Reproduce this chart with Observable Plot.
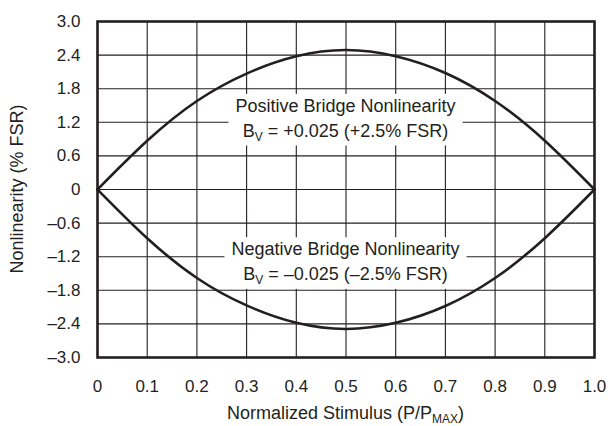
<!DOCTYPE html>
<html>
<head>
<meta charset="utf-8">
<script src="https://cdn.jsdelivr.net/npm/d3@7"></script>
<script src="https://cdn.jsdelivr.net/npm/@observablehq/plot@0.6"></script>
<style>
  html, body { margin: 0; padding: 0; background: #fff; }
  #chart { width: 608px; height: 426px; }
</style>
</head>
<body>
<div id="chart"></div>
<script>
// ---- data ----
const stimulus = [0, 0.1, 0.2, 0.3, 0.4, 0.5, 0.6, 0.7, 0.8, 0.9, 1.0];
const positiveNL = [0, 0.87, 1.58, 2.07, 2.38, 2.49, 2.38, 2.08, 1.58, 0.87, 0];
const negativeNL = [0, -0.87, -1.58, -2.07, -2.38, -2.49, -2.38, -2.08, -1.58, -0.87, 0];

const xTicks = [0, 0.1, 0.2, 0.3, 0.4, 0.5, 0.6, 0.7, 0.8, 0.9, 1.0];
const xTickLabels = ["0", "0.1", "0.2", "0.3", "0.4", "0.5", "0.6", "0.7", "0.8", "0.9", "1.0"];
const yTicks = [3.0, 2.4, 1.8, 1.2, 0.6, 0, -0.6, -1.2, -1.8, -2.4, -3.0];
const yTickLabels = ["3.0", "2.4", "1.8", "1.2", "0.6", "0", "\u20130.6", "\u20131.2", "\u20131.8", "\u20132.4", "\u20133.0"];

const xTitle = ["Normalized Stimulus (P/P", "MAX", ")"];
const yTitle = "Nonlinearity (% FSR)";

// annotations anchored at data positions
const annoX = [0.5, 0.5];
const annoY1 = [1.49, -1.07];
const annoY2 = [1.05, -1.51];
const annoLine1 = ["Positive Bridge Nonlinearity", "Negative Bridge Nonlinearity"];
const annoLine2 = [["B", "V", " = +0.025 (+2.5% FSR)"], ["B", "V", " = \u20130.025 (\u20132.5% FSR)"]];

// ---- build ----
const series = [
  ...stimulus.map((s, i) => ({s, v: positiveNL[i], k: "pos"})),
  ...stimulus.map((s, i) => ({s, v: negativeNL[i], k: "neg"}))
];
const xLab = new Map(xTicks.map((t, i) => [t, xTickLabels[i]]));
const yLab = new Map(yTicks.map((t, i) => [t, yTickLabels[i]]));

const FONT = "'Liberation Sans', Arial, Helvetica, sans-serif";
const ink = "#231f20";
const TXT = 18;

const plot = Plot.plot({
  width: 608,
  height: 426,
  marginLeft: 97,
  marginRight: 14,
  marginTop: 21,
  marginBottom: 69,
  style: {fontFamily: FONT, fontSize: "17px", color: ink, background: "#fff"},
  x: {domain: [0, 1], ticks: xTicks, tickFormat: d => xLab.get(d), tickSize: 0, tickPadding: 22, label: null},
  y: {domain: [-3, 3], ticks: yTicks, tickFormat: d => yLab.get(d), tickSize: 0, tickPadding: 17, label: null},
  marks: [
    Plot.gridX(xTicks, {stroke: ink, strokeOpacity: 1, strokeWidth: 1.1}),
    Plot.gridY(yTicks, {stroke: ink, strokeOpacity: 1, strokeWidth: 1.1}),
    Plot.line(series, {x: "s", y: "v", z: "k", stroke: ink, strokeWidth: 2.6, curve: "natural"}),
    Plot.frame({stroke: ink, strokeWidth: 2.6})
  ]
});
document.getElementById("chart").appendChild(plot);

// ---- text additions positioned with the plot's scales ----
const svg = d3.select(plot);
const sx = plot.scale("x"), sy = plot.scale("y");
const x0 = sx.range[0], x1 = sx.range[1];
const yb = sy.range[0], yt = sy.range[1];

const lineGroup = plot.querySelector("g[aria-label='line']");
const annoG = d3.create("svg:g").attr("font-family", FONT).attr("font-size", TXT).attr("fill", ink);
plot.insertBefore(annoG.node(), lineGroup);

annoX.forEach((ax, i) => {
  const g = annoG.append("g");
  const rect = g.append("rect").attr("fill", "#fff");
  const cx = sx.apply(ax);
  g.append("text").attr("x", cx).attr("y", sy.apply(annoY1[i])).attr("text-anchor", "middle")
    .attr("dy", "0.35em").text(annoLine1[i]);
  const t2 = g.append("text").attr("x", cx).attr("y", sy.apply(annoY2[i])).attr("text-anchor", "middle")
    .attr("dy", "0.35em");
  const [a, b, c] = annoLine2[i];
  t2.append("tspan").text(a);
  t2.append("tspan").attr("font-size", 12).attr("dy", 4).text(b);
  t2.append("tspan").attr("dy", -4).text(c);
  const bb = g.node().getBBox();
  rect.attr("x", bb.x - 7).attr("y", bb.y - 2).attr("width", bb.width + 14).attr("height", bb.height + 4);
});

// axis titles
const tx = svg.append("text").attr("font-family", FONT).attr("font-size", TXT).attr("fill", ink)
  .attr("x", (x0 + x1) / 2).attr("y", yb + 56).attr("text-anchor", "middle").attr("dy", "0.35em");
tx.append("tspan").text(xTitle[0]);
tx.append("tspan").attr("font-size", 12).attr("dy", 4).text(xTitle[1]);
tx.append("tspan").attr("dy", -4).text(xTitle[2]);

svg.append("text").attr("font-family", FONT).attr("font-size", TXT).attr("fill", ink)
  .attr("transform", `translate(17,${(yb + yt) / 2}) rotate(-90)`)
  .attr("text-anchor", "middle").attr("dy", "0.35em").text(yTitle);
</script>
</body>
</html>
